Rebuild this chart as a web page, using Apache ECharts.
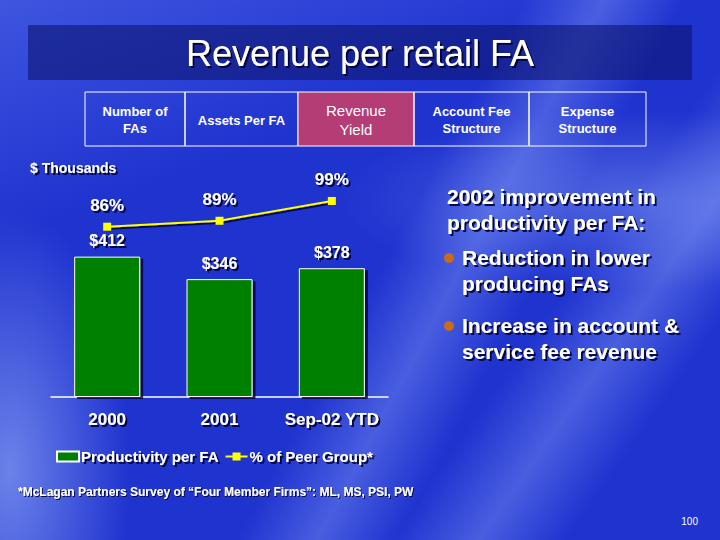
<!DOCTYPE html>
<html>
<head>
<meta charset="utf-8">
<script src="https://cdn.jsdelivr.net/npm/echarts@6/dist/echarts.min.js"></script>
<style>
  html, body { margin: 0; padding: 0; }
  #slide {
    width: 720px; height: 540px; position: relative; overflow: hidden;
    background:
      linear-gradient(118deg, rgba(255,255,255,0) 0%, rgba(255,255,255,0) 52%, rgba(150,175,255,0.35) 60%, rgba(255,255,255,0) 68%),
      linear-gradient(125deg, rgba(255,255,255,0) 0%, rgba(255,255,255,0) 70%, rgba(150,175,255,0.35) 78%, rgba(255,255,255,0) 86%),
      radial-gradient(ellipse 120px 260px at 10px 470px, rgba(170,195,255,0.55), rgba(170,195,255,0) 100%),
      radial-gradient(ellipse 300px 90px at 640px 200px, rgba(170,195,255,0.35), rgba(170,195,255,0) 100%),
      linear-gradient(160deg, rgba(120,150,255,0.35) 0%, rgba(120,150,255,0) 30%),
      #1f33cf;
  }
  #chart { width: 720px; height: 540px; position: absolute; left: 0; top: 0; }
</style>
</head>
<body>
<div id="slide"><div id="chart"></div></div>
<script>
// 数据
var categories = ['2000', '2001', 'Sep-02 YTD'];
var productivity = [412, 346, 378];   // $ Thousands
var peerPct = [86, 89, 99];           // % of Peer Group
var tabs = ['Number of\nFAs', 'Assets Per FA', 'Revenue\nYield', 'Account Fee\nStructure', 'Expense\nStructure'];
var bullets = ['Reduction in lower\nproducing FAs', 'Increase in account &\nservice fee revenue'];

var FONT = '"Liberation Sans", Arial, sans-serif';
var shadow = { textShadowColor: 'rgba(0,0,50,0.9)', textShadowOffsetX: 2, textShadowOffsetY: 2, textShadowBlur: 1 };

function txt(opts) {
  return Object.assign({ fill: '#fff', fontFamily: FONT }, shadow, opts);
}

// 导航标签
var tabX = [85, 185, 298, 414, 529, 646];
var graphics = [
  { type: 'rect', shape: { x: 28, y: 25, width: 664, height: 55 }, style: { fill: 'rgba(15,25,120,0.65)' } },
  { type: 'text', x: 360, y: 53, style: txt({ text: 'Revenue per retail FA', fontSize: 36, align: 'center', verticalAlign: 'middle' }) }
];
tabs.forEach(function (t, i) {
  var active = i === 2;
  graphics.push({
    type: 'rect',
    shape: { x: tabX[i], y: 92, width: tabX[i + 1] - tabX[i], height: 54 },
    style: { fill: active ? '#b33d74' : 'rgba(0,0,0,0)', stroke: '#fff', lineWidth: 1 }
  });
  graphics.push({
    type: 'text', x: (tabX[i] + tabX[i + 1]) / 2, y: 120,
    style: {
      text: t, fill: '#fff', fontFamily: FONT, align: 'center', verticalAlign: 'middle',
      fontSize: active ? 15 : 13, fontWeight: active ? 'normal' : 'bold', lineHeight: active ? 19 : 17
    }
  });
});

graphics.push({ type: 'text', x: 30, y: 168, style: txt({ text: '$ Thousands', fontSize: 14, fontWeight: 'bold', verticalAlign: 'middle' }) });
graphics.push({ type: 'text', x: 447, y: 209, style: txt({ text: '2002 improvement in\nproductivity per FA:', fontSize: 21, fontWeight: 'bold', lineHeight: 26, verticalAlign: 'middle' }) });

var bulletY = [270, 338];
bullets.forEach(function (b, i) {
  graphics.push({ type: 'circle', shape: { cx: 449, cy: bulletY[i] - 12, r: 5 }, style: { fill: '#cc6a1c' } });
  graphics.push({ type: 'text', x: 462, y: bulletY[i], style: txt({ text: b, fontSize: 21, fontWeight: 'bold', lineHeight: 26, verticalAlign: 'middle' }) });
});

graphics.push({ type: 'text', x: 18, y: 492, style: txt({ text: '*McLagan Partners Survey of \u201cFour Member Firms\u201d: ML, MS, PSI, PW', fontFamily: '"Liberation Sans Narrow", ' + FONT, fontSize: 12, fontWeight: 'bold', verticalAlign: 'middle', textShadowOffsetX: 1, textShadowOffsetY: 1 }) });
graphics.push({ type: 'text', x: 698, y: 521, style: { text: '100', fill: '#fff', fontFamily: FONT, fontSize: 10, align: 'right', verticalAlign: 'middle' } });

var myChart = echarts.init(document.getElementById('chart'), null, { renderer: 'svg' });
var option = {
  backgroundColor: 'transparent',
  animation: false,
  textStyle: { fontFamily: FONT },
  graphic: graphics,
  legend: {
    left: 51, top: 444,
    itemWidth: 22, itemHeight: 10, itemGap: 6,
    textStyle: Object.assign({ color: '#fff', fontSize: 15, fontWeight: 'bold', fontFamily: FONT, padding: [0, 0, 0, -3] }, shadow),
    data: [
      { name: 'Productivity per FA', icon: 'rect' },
      { name: '% of Peer Group*' }
    ]
  },
  grid: { left: 51, right: 332, top: 197, height: 200 },
  xAxis: {
    type: 'category',
    data: categories,
    axisLine: { lineStyle: { color: '#ffffff', width: 1.5 } },
    axisTick: { show: false },
    axisLabel: Object.assign({ color: '#fff', fontSize: 17, fontWeight: 'bold', margin: 14, interval: 0 }, shadow)
  },
  yAxis: [
    { type: 'value', min: 0, max: 587, show: false, splitLine: { show: false } },
    { type: 'value', min: 0, max: 101, show: false, splitLine: { show: false } }
  ],
  series: [
    {
      name: 'Productivity per FA',
      type: 'bar',
      barWidth: 66,
      data: productivity,
      itemStyle: { color: '#008000', borderColor: '#fff', borderWidth: 1, shadowColor: 'rgba(0,0,50,0.8)', shadowOffsetX: 3, shadowOffsetY: 2 },
      label: Object.assign({ show: true, position: 'top', distance: 8, color: '#fff', fontSize: 16, fontWeight: 'bold', formatter: '${c}' }, shadow)
    },
    {
      name: '% of Peer Group*',
      type: 'line',
      yAxisIndex: 1,
      data: peerPct,
      symbol: 'rect',
      symbolSize: 8,
      lineStyle: { color: '#ffff00', width: 2, shadowColor: 'rgba(0,0,50,0.8)', shadowOffsetX: 2, shadowOffsetY: 2 },
      itemStyle: { color: '#ffff00' },
      label: Object.assign({ show: true, position: 'top', distance: 9, color: '#fff', fontSize: 17, fontWeight: 'bold', formatter: '{c}%' }, shadow)
    }
  ]
};
myChart.setOption(option);
</script>
</body>
</html>
